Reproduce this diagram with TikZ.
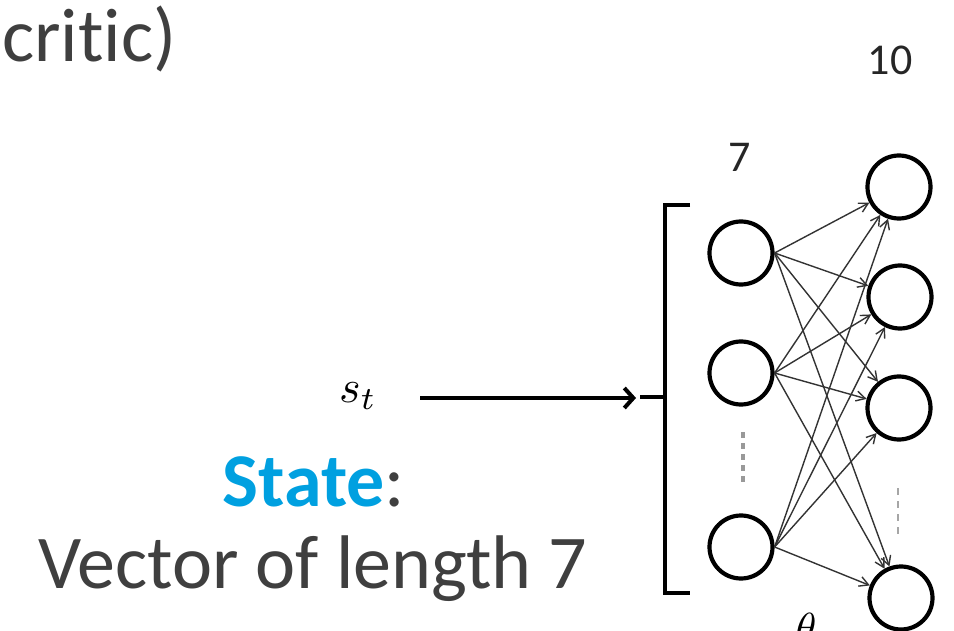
\documentclass[tikz,border=0pt]{standalone}
\usepackage{fontspec}
\setmainfont[Ligatures={NoCommon}]{Carlito}
\usetikzlibrary{arrows.meta}
\definecolor{txtgray}{HTML}{3F3F3F}
\definecolor{stateblue}{HTML}{00A0E0}
\definecolor{edgegray}{HTML}{333333}
\tikzset{
  neuron/.style={circle, draw=black, line width=4.2pt, minimum size=63pt, inner sep=0pt},
  wedge/.style={draw=edgegray, line width=1.4pt, -{Straight Barb[length=9pt,width=10pt]}},
  bigtext/.style={text=txtgray, font=\fontsize{76}{90}\selectfont, inner sep=0pt},
  smalltext/.style={text=black!85, font=\fontsize{44}{50}\selectfont, inner sep=0pt},
  vdots/.style={draw=gray!80, line width=4pt, dash pattern=on 6pt off 5pt},
  vdotsR/.style={draw=gray!70, line width=2pt, dash pattern=on 7pt off 6pt}
}
\begin{document}
\begin{tikzpicture}[x=1pt,y=-1pt]
\useasboundingbox (0,0) rectangle (954,631);
% texts
\node[bigtext, anchor=base west] (critic) at (2,62) {critic)};
\node[bigtext, anchor=base] (state) at (314,506) {\textbf{\textcolor{stateblue}{State}}:};
\node[bigtext, anchor=base west] (vec) at (38,588) {Vector of length 7};
\node[inner sep=0pt, scale=4.6] (st) at (358,396) {$s_t$};
\node[smalltext, anchor=base] (n7) at (740,172) {7};
\node[smalltext, anchor=base] (n10) at (890,75) {10};
\node[inner sep=0pt, scale=4.2, anchor=north] (theta) at (806,612) {$\theta$};
% left layer
\node[neuron] (l1) at (741,253) {};
\node[neuron] (l2) at (741,373) {};
\node[neuron] (l3) at (741,547) {};
% right layer
\node[neuron] (r1) at (899,187) {};
\node[neuron] (r2) at (900,297) {};
\node[neuron] (r3) at (899,408) {};
\node[neuron] (r4) at (901,598) {};
% dots
\coordinate (dl1) at (743,432);
\coordinate (dl2) at (743,482);
\draw[vdots] (dl1) -- (dl2);
\coordinate (dr1) at (898,488);
\coordinate (dr2) at (898,538);
\draw[vdotsR] (dr1) -- (dr2);
% bracket
\coordinate (bt) at (690,205);
\coordinate (btc) at (665,205);
\coordinate (bbc) at (665,593);
\coordinate (bb) at (690,593);
\coordinate (bm) at (665,397);
\coordinate (bmt) at (640,397);
\draw[line width=3.5pt] (bt) -- (btc) -- (bbc) -- (bb);
\draw[line width=4pt] (bm) -- (bmt);
% input arrow
\coordinate (ain) at (420,398);
\coordinate (aout) at (636,398);
\draw[line width=4pt, -{Straight Barb[length=9pt,width=20pt]}] (ain) -- (aout);
% connections
\foreach \l in {l1,l2,l3}{
  \foreach \r in {r1,r2,r3,r4}{
    \draw[wedge] (\l.east) -- (\r);
  }
}
\end{tikzpicture}
\end{document}
